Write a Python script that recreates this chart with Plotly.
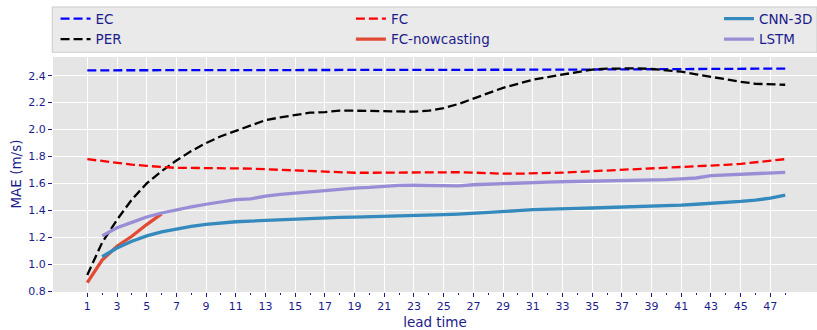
import plotly.graph_objects as go

lead = list(range(1, 49))
lead_cnn = list(range(2, 49))
lead_now = list(range(1, 7))
xtick_vals = list(range(1, 48, 2))

ec = [2.44] * 30 + [2.442, 2.443, 2.444, 2.445, 2.446, 2.447, 2.448, 2.448, 2.449, 2.449,
                     2.45, 2.45, 2.45, 2.451, 2.451, 2.452, 2.452, 2.452]
per = [0.92, 1.16, 1.33, 1.48, 1.60, 1.69, 1.77, 1.84, 1.90, 1.95, 1.99, 2.03, 2.07, 2.09,
       2.11, 2.125, 2.13, 2.14, 2.14, 2.14, 2.135, 2.135, 2.133, 2.14, 2.16, 2.19, 2.23,
       2.27, 2.31, 2.34, 2.37, 2.39, 2.41, 2.43, 2.445, 2.452, 2.456, 2.455, 2.45, 2.44,
       2.43, 2.41, 2.39, 2.37, 2.355, 2.34, 2.335, 2.333]
fc = [1.78, 1.765, 1.75, 1.74, 1.73, 1.72, 1.715, 1.715, 1.715, 1.712, 1.71, 1.71, 1.705,
      1.70, 1.695, 1.69, 1.685, 1.68, 1.679, 1.679, 1.68, 1.68, 1.68, 1.683, 1.685, 1.683,
      1.68, 1.675, 1.672, 1.672, 1.673, 1.676, 1.68, 1.685, 1.69, 1.695, 1.70, 1.705, 1.71,
      1.713, 1.718, 1.725, 1.73, 1.738, 1.745, 1.755, 1.768, 1.78]
fc_now = [0.862, 1.03, 1.133, 1.207, 1.294, 1.373]
cnn3d = [1.055, 1.12, 1.17, 1.21, 1.24, 1.262, 1.28, 1.295, 1.307, 1.315, 1.32, 1.325, 1.33,
         1.337, 1.343, 1.346, 1.348, 1.35, 1.352, 1.356, 1.36, 1.362, 1.365, 1.368, 1.372,
         1.377, 1.383, 1.39, 1.397, 1.405, 1.41, 1.412, 1.414, 1.417, 1.42, 1.422, 1.424,
         1.427, 1.432, 1.438, 1.445, 1.45, 1.458, 1.466, 1.476, 1.49, 1.512, 1.535]
lstm = [1.21, 1.27, 1.31, 1.35, 1.38, 1.405, 1.425, 1.445, 1.465, 1.48, 1.485, 1.505, 1.518,
        1.528, 1.537, 1.545, 1.555, 1.565, 1.57, 1.578, 1.585, 1.586, 1.583, 1.583, 1.582,
        1.59, 1.595, 1.598, 1.603, 1.606, 1.61, 1.612, 1.614, 1.615, 1.615, 1.616, 1.618,
        1.622, 1.628, 1.633, 1.64, 1.658, 1.662, 1.666, 1.67, 1.675, 1.682, 1.694]

NAVY = "#1c1c8c"
FONT = "DejaVu Sans"

fig = go.Figure()

def add(x, y, name, color, width, dash, legend, rank):
    fig.add_trace(go.Scatter(x=x, y=y, name=name, mode="lines",
                             line=dict(color=color, width=width, dash=dash),
                             legend=legend, legendrank=rank))

add(lead, ec, "EC", "#0000ff", 2.3, "9px,4px", "legend", 1)
add(lead, per, "PER", "#000000", 2.3, "9px,4px", "legend", 2)
add(lead, fc, "FC", "#ff0000", 2.3, "9px,4px", "legend2", 1)
add(lead_now, fc_now, "FC-nowcasting", "#E24A33", 3.3, "solid", "legend2", 2)
add(lead_cnn, cnn3d, "CNN-3D", "#348ABD", 3.3, "solid", "legend3", 1)
add(lead_cnn, lstm, "LSTM", "#988ED5", 3.3, "solid", "legend3", 2)

leg_common = dict(bgcolor="rgba(0,0,0,0)", font=dict(family=FONT, size=13.5, color=NAVY),
                  xref="container", yref="container",
                  yanchor="top", xanchor="left", y=0.99, tracegroupgap=0,
                  orientation="v")

fig.update_layout(
    width=817, height=330,
    margin=dict(l=53, r=0, t=57, b=38, autoexpand=False),
    paper_bgcolor="white",
    plot_bgcolor="#E5E5E5",
    font=dict(family=FONT, size=10, color=NAVY),
    showlegend=True,
    legend=dict(x=0.068, **leg_common),
    legend2=dict(x=0.4295, **leg_common),
    legend3=dict(x=0.88, **leg_common),
    xaxis=dict(range=[-1.31, 50.14], tickmode="array", tickvals=xtick_vals,
               ticktext=[str(v) for v in xtick_vals],
               showgrid=True, gridcolor="white", gridwidth=1, zeroline=False,
               ticks="outside", ticklen=4, tickcolor=NAVY,
               minor=dict(tickmode="array", tickvals=lead, ticks="outside", ticklen=2,
                          tickcolor=NAVY, showgrid=False),
               tickfont=dict(family=FONT, size=11, color=NAVY),
               title=dict(text="lead time", font=dict(family=FONT, size=13.5, color=NAVY))),
    yaxis=dict(range=[0.793, 2.539], tickmode="linear", tick0=0.8, dtick=0.2,
               tickformat=".1f",
               showgrid=True, gridcolor="white", gridwidth=1, zeroline=False,
               ticks="outside", ticklen=4, tickcolor=NAVY,
               tickfont=dict(family=FONT, size=11, color=NAVY)),
    annotations=[dict(text="MAE (m/s)", xref="paper", yref="paper", x=-0.0497, y=0.5,
                      xanchor="center", yanchor="middle", textangle=-90, showarrow=False,
                      font=dict(family=FONT, size=13.5, color=NAVY))],
    shapes=[dict(type="rect", xref="paper", yref="paper",
                 x0=-0.001, x1=1.0, y0=1.02, y1=1.213,
                 fillcolor="#EAEAEA", line=dict(color="#CCCCCC", width=1), layer="below")],
)

fig.write_html("out.html", config={"displayModeBar": False},
               post_script="document.body.style.margin='0';document.body.style.padding='0';")
